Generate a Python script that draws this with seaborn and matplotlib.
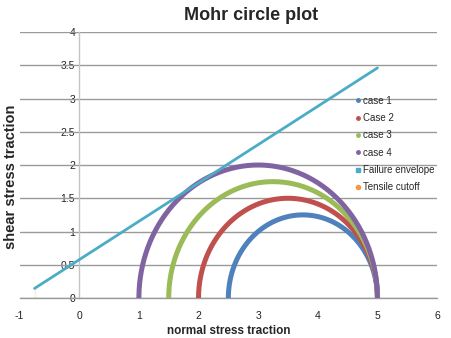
import numpy as np
import pandas as pd
import matplotlib
matplotlib.use("Agg")
import matplotlib.pyplot as plt
from matplotlib.lines import Line2D
import seaborn as sns

# ---- data ----
case_labels = ["case 1", "Case 2", "case 3", "case 4"]
sigma_1 = [5.0, 5.0, 5.0, 5.0]          # major principal stress
sigma_3 = [2.5, 2.0, 1.5, 1.0]          # minor principal stress
envelope_x = [-0.75, 5.0]
envelope_y = [0.144, 3.46]
cutoff_x = [-0.75, -0.75]
cutoff_y = [0.0, 0.15]
x_ticks = [-1, 0, 1, 2, 3, 4, 5, 6]
y_ticks = [0, 0.5, 1, 1.5, 2, 2.5, 3, 3.5, 4]

case_colors = ["#4F81BD", "#C0504D", "#9BBB59", "#8064A2"]
env_color = "#4BACC6"
cut_color = "#F79646"

sns.set_theme(style="white")
plt.rcParams["font.family"] = ["Liberation Sans", "DejaVu Sans"]

fig = plt.figure(figsize=(4.52, 3.38), dpi=100)
ax = fig.add_axes([0.0434, 0.1183, 0.9236, 0.787])

# Mohr circles (upper halves) from principal stresses
theta = np.linspace(0, np.pi, 200)
rows = []
for lab, s1, s3 in zip(case_labels, sigma_1, sigma_3):
    c = (s1 + s3) / 2
    r = (s1 - s3) / 2
    for i, t in enumerate(theta):
        rows.append({"case": lab, "order": i, "x": c + r * np.cos(t), "y": r * np.sin(t)})
circles = pd.DataFrame(rows)

for lab, col in zip(case_labels, case_colors):
    d = circles[circles["case"] == lab]
    sns.lineplot(data=d, x="x", y="y", sort=False, color=col, linewidth=3.6,
                 ax=ax, legend=False, zorder=3)

env = pd.DataFrame({"x": envelope_x, "y": envelope_y})
sns.lineplot(data=env, x="x", y="y", sort=False, color=env_color, linewidth=2.0,
             ax=ax, legend=False, zorder=4)
cut = pd.DataFrame({"x": cutoff_x, "y": cutoff_y})
sns.lineplot(data=cut, x="x", y="y", sort=False, color=cut_color, linewidth=3.5,
             ax=ax, legend=False, zorder=4, solid_capstyle="butt")

ax.set_xlim(-1, 6)
ax.set_ylim(0, 4)
ax.set_xticks(x_ticks)
ax.set_xticklabels([str(v) for v in x_ticks])
ax.set_yticks(y_ticks)
ax.set_yticklabels([("%g" % v) for v in y_ticks])

ax.grid(False)
for yv in y_ticks:
    ax.axhline(yv, color="#9A9A9A", linewidth=1.0, zorder=1, xmin=0, xmax=1)

for s in ["top", "right"]:
    ax.spines[s].set_visible(False)
ax.spines["left"].set_position(("data", 0))
ax.spines["left"].set_color("#C4C4C4")
ax.spines["left"].set_linewidth(1.0)
ax.spines["bottom"].set_color("#9A9A9A")
ax.spines["bottom"].set_linewidth(1.0)

ax.tick_params(axis="x", labelsize=7.5, colors="#222222", length=3, width=0.8,
               direction="out", pad=6)
ax.tick_params(axis="x", color="#9A9A9A")
ax.tick_params(axis="y", labelsize=7.5, labelcolor="#222222", length=0, pad=3)

ax.set_xlabel("normal stress traction", fontsize=8.5, fontweight="bold", labelpad=3)
ax.set_ylabel("")
fig.text(0.024, 0.476, "shear stress traction", rotation=90, fontsize=10.5,
         fontweight="bold", ha="center", va="center")
fig.text(0.555, 0.953, "Mohr circle plot", fontsize=13, fontweight="bold",
         ha="center", va="center")

handles = [Line2D([], [], linestyle="none", marker="o", markersize=2.5,
                  color=c) for c in case_colors]
handles.append(Line2D([], [], linestyle="none", marker="s", markersize=2.2, color=env_color))
handles.append(Line2D([], [], linestyle="none", marker="o", markersize=3, color=cut_color))
labels = case_labels + ["Failure envelope", "Tensile cutoff"]
leg = fig.legend(handles, labels, loc="upper left", bbox_to_anchor=(0.776, 0.728),
                 frameon=False, fontsize=7, handlelength=0.6, handletextpad=0.3,
                 labelspacing=0.75, borderaxespad=0)

fig.savefig("out.png", dpi=100)
